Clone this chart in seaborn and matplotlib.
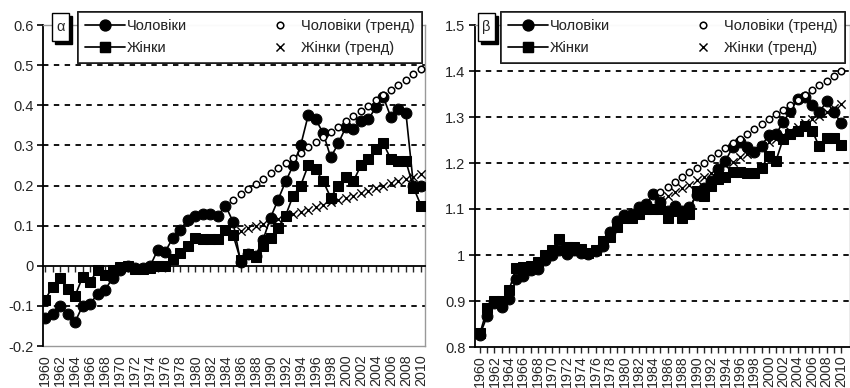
import pandas as pd
import matplotlib
matplotlib.use('Agg')
import matplotlib.pyplot as plt
from matplotlib.lines import Line2D
from matplotlib.patches import Rectangle
import seaborn as sns

years = list(range(1960, 2011))

# panel alpha
alpha_men = [-0.13, -0.12, -0.10, -0.12, -0.14, -0.10, -0.095, -0.07, -0.06, -0.03,
             -0.01, 0.0, -0.005, -0.005, 0.0, 0.04, 0.035, 0.07, 0.09, 0.115,
             0.125, 0.13, 0.13, 0.125, 0.15, 0.11, 0.01, 0.03, 0.025, 0.065,
             0.12, 0.165, 0.21, 0.25, 0.30, 0.375, 0.365, 0.33, 0.27, 0.305,
             0.345, 0.34, 0.36, 0.365, 0.395, 0.42, 0.37, 0.39, 0.38, 0.20, 0.20]
alpha_women = [-0.085, -0.053, -0.03, -0.058, -0.075, -0.028, -0.04, -0.01, -0.024, -0.01,
               -0.003, 0.0, -0.008, -0.008, -0.005, 0.0, 0.0, 0.017, 0.032, 0.048,
               0.07, 0.066, 0.066, 0.066, 0.088, 0.077, 0.015, 0.03, 0.022, 0.048,
               0.07, 0.095, 0.125, 0.175, 0.20, 0.25, 0.24, 0.21, 0.17, 0.20,
               0.22, 0.21, 0.25, 0.265, 0.29, 0.305, 0.265, 0.26, 0.26, 0.195, 0.15]
alpha_men_trend_years = list(range(1985, 2011))
alpha_men_trend = [0.165, 0.178, 0.191, 0.204, 0.217, 0.230, 0.243, 0.256, 0.269, 0.282,
                   0.295, 0.308, 0.321, 0.334, 0.347, 0.360, 0.373, 0.386, 0.399, 0.412,
                   0.425, 0.438, 0.451, 0.464, 0.477, 0.490]
alpha_women_trend_years = list(range(1986, 2011))
alpha_women_trend = [0.087, 0.093, 0.099, 0.105, 0.111, 0.116, 0.122, 0.128, 0.134, 0.140,
                     0.146, 0.152, 0.158, 0.163, 0.169, 0.175, 0.181, 0.187, 0.193, 0.199,
                     0.205, 0.210, 0.216, 0.222, 0.228]
alpha_yticks = [0.6, 0.5, 0.4, 0.3, 0.2, 0.1, 0.0, -0.1, -0.2]
alpha_ylabels = ['0.6', '0.5', '0.4', '0.3', '0.2', '0.1', '0', '-0.1', '-0.2']

# panel beta
beta_men = [0.827, 0.868, 0.895, 0.886, 0.905, 0.947, 0.955, 0.968, 0.97, 0.99,
            1.0, 1.01, 1.003, 1.01, 1.005, 1.003, 1.008, 1.02, 1.05, 1.073,
            1.088, 1.09, 1.104, 1.11, 1.133, 1.115, 1.095, 1.107, 1.095, 1.104,
            1.13, 1.145, 1.16, 1.186, 1.205, 1.234, 1.245, 1.235, 1.225, 1.238,
            1.26, 1.262, 1.29, 1.312, 1.34, 1.343, 1.327, 1.31, 1.334, 1.31, 1.288]
beta_women = [0.83, 0.884, 0.9, 0.9, 0.923, 0.971, 0.973, 0.977, 0.985, 1.0,
              1.01, 1.034, 1.018, 1.018, 1.012, 1.005, 1.01, 1.03, 1.04, 1.06,
              1.08, 1.08, 1.09, 1.1, 1.1, 1.1, 1.08, 1.095, 1.08, 1.09,
              1.14, 1.128, 1.15, 1.165, 1.17, 1.18, 1.18, 1.178, 1.178, 1.19,
              1.215, 1.205, 1.253, 1.263, 1.27, 1.28, 1.27, 1.236, 1.255, 1.255, 1.24]
beta_men_trend_years = list(range(1985, 2011))
beta_men_trend = [1.138, 1.148, 1.159, 1.169, 1.180, 1.190, 1.201, 1.211, 1.222, 1.232,
                  1.243, 1.253, 1.264, 1.274, 1.285, 1.295, 1.306, 1.316, 1.327, 1.337,
                  1.348, 1.358, 1.369, 1.379, 1.390, 1.400]
beta_women_trend_years = list(range(1985, 2011))
beta_women_trend = [1.120, 1.128, 1.137, 1.145, 1.153, 1.162, 1.170, 1.178, 1.187, 1.195,
                    1.203, 1.212, 1.220, 1.228, 1.236, 1.245, 1.253, 1.261, 1.270, 1.278,
                    1.286, 1.295, 1.303, 1.311, 1.320, 1.328]
beta_yticks = [1.5, 1.4, 1.3, 1.2, 1.1, 1.0, 0.9, 0.8]
beta_ylabels = ['1.5', '1.4', '1.3', '1.2', '1.1', '1', '0.9', '0.8']

labels = ['Чоловіки', 'Жінки', 'Чоловіки (тренд)', 'Жінки (тренд)']

sns.set_style('white')
plt.rcParams['font.family'] = ['Liberation Sans', 'DejaVu Sans']

W, H = 850, 388
fig = plt.figure(figsize=(W / 100, H / 100), dpi=100)


def px_axes(l, t, r, b):
    return fig.add_axes([l / W, 1 - b / H, (r - l) / W, (b - t) / H])


def draw_panel(ax, men, women, tmy, tm, twy, tw, yticks, ylabels, xlim, cross):
    df = pd.DataFrame({'year': years, 'men': men, 'women': women})
    sns.lineplot(data=df, x='year', y='men', color='black', lw=1.2, marker='o',
                 markersize=7.8, mec='black', ax=ax, zorder=3)
    sns.lineplot(data=df, x='year', y='women', color='black', lw=1.2, marker='s',
                 markersize=6.5, mec='black', ax=ax, zorder=3)
    sns.scatterplot(x=tmy, y=tm, marker='o', s=22, facecolor='white',
                    edgecolor='black', linewidth=1.1, ax=ax, zorder=4)
    sns.scatterplot(x=twy, y=tw, marker='x', s=36, color='black',
                    linewidth=1.0, ax=ax, zorder=4)

    ax.set_xlim(*xlim)
    ax.set_ylim(min(yticks), max(yticks))
    ax.set_xlabel('')
    ax.set_ylabel('')
    ax.set_yticks(yticks)
    ax.set_yticklabels(ylabels, fontsize=10.5)
    ax.tick_params(axis='y', direction='out', length=4, width=1.2, color='black',
                   left=True, pad=3)
    ax.set_xticks(years)
    ax.yaxis.grid(True, color='black', lw=1.3, ls=(0, (3, 3)))
    ax.xaxis.grid(False)
    for val, gl in zip(yticks, ax.get_ygridlines()):
        if val in (min(yticks), max(yticks), cross):
            gl.set_visible(False)

    ax.spines['left'].set_color('black')
    ax.spines['left'].set_linewidth(1.3)
    for s in ('top', 'right'):
        ax.spines[s].set_color('#999999')
        ax.spines[s].set_linewidth(1.0)

    year_labels = [str(y) if y % 2 == 0 else '' for y in years]
    if cross == min(yticks):
        ax.spines['bottom'].set_color('black')
        ax.spines['bottom'].set_linewidth(1.3)
        ax.tick_params(axis='x', direction='out', length=4, width=1.0, bottom=True,
                       pad=2)
        ax.set_xticklabels(year_labels, rotation=90, fontsize=10.3)
    else:
        ax.spines['bottom'].set_position(('data', cross))
        ax.spines['bottom'].set_color('black')
        ax.spines['bottom'].set_linewidth(1.3)
        ax.tick_params(axis='x', direction='out', length=4, width=1.0, bottom=True,
                       labelbottom=False)
        sec = ax.secondary_xaxis(0)
        sec.set_xticks(years)
        sec.set_xticklabels(year_labels, rotation=90, fontsize=10.3)
        sec.tick_params(axis='x', length=0, pad=6)
        sec.spines['bottom'].set_color('#999999')
        sec.spines['bottom'].set_linewidth(1.0)


ax1 = px_axes(43, 25, 425, 346)
draw_panel(ax1, alpha_men, alpha_women, alpha_men_trend_years, alpha_men_trend,
           alpha_women_trend_years, alpha_women_trend, alpha_yticks, alpha_ylabels,
           (1960 - 2 / 7.52, 2010 + 4 / 7.52), 0.0)

ax2 = px_axes(475, 25, 850, 347)
draw_panel(ax2, beta_men, beta_women, beta_men_trend_years, beta_men_trend,
           beta_women_trend_years, beta_women_trend, beta_yticks, beta_ylabels,
           (1960 - 5 / 7.20, 2010 + 9 / 7.20), 0.8)

handles = [
    Line2D([], [], color='black', lw=1.2, marker='o', markersize=7.8),
    Line2D([], [], color='black', lw=1.2, marker='s', markersize=6.5),
    Line2D([], [], ls='none', marker='o', markersize=4.7, mfc='white', mec='black', mew=1.1),
    Line2D([], [], ls='none', marker='x', markersize=6, color='black', mew=1.0),
]

for lx in (78, 501):
    leg = fig.legend(handles, labels, ncol=2, loc='upper left',
                     bbox_to_anchor=(lx / W, 1 - 12 / H), borderaxespad=0,
                     frameon=True, fancybox=False, edgecolor='black', fontsize=10.5,
                     handlelength=2.75, handletextpad=0.1, columnspacing=5.0,
                     labelspacing=0.55, borderpad=0.5)
    leg.get_frame().set_linewidth(1.2)
    fig.add_artist(leg)

# small panel tags with shadow
for (bx, txt) in ((52, 'α'), (478, 'β')):
    x0, y0, w, h = bx, 13, 17, 28
    fig.add_artist(Rectangle(((x0 + 3) / W, 1 - (y0 + h + 3) / H), w / W, h / H,
                             transform=fig.transFigure, facecolor='black',
                             edgecolor='black', zorder=10))
    fig.add_artist(Rectangle((x0 / W, 1 - (y0 + h) / H), w / W, h / H,
                             transform=fig.transFigure, facecolor='white',
                             edgecolor='black', lw=1.0, zorder=11))
    fig.text((x0 + w / 2) / W, 1 - (y0 + h / 2) / H, txt, ha='center', va='center',
             fontsize=10.5, zorder=12)

fig.savefig('out.png', dpi=100)
